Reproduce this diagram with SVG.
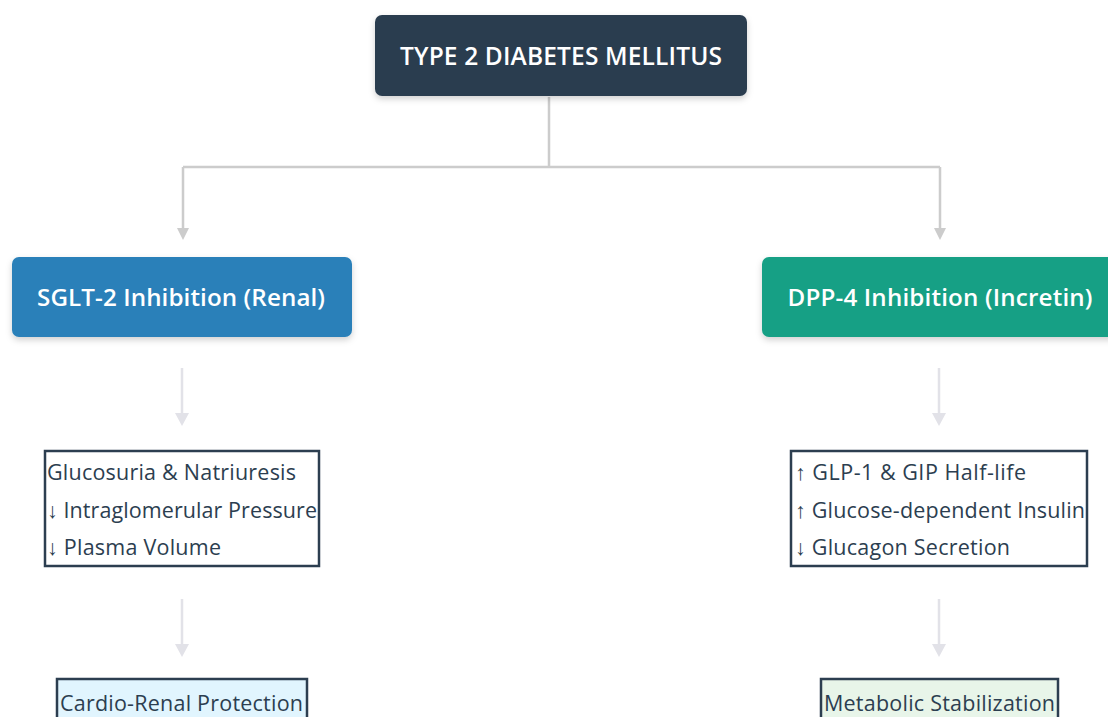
<svg xmlns="http://www.w3.org/2000/svg" width="1108" height="717" viewBox="0 0 1108 717">
<defs>
<filter id="sh" x="-10%" y="-20%" width="120%" height="150%">
<feDropShadow dx="0" dy="3" stdDeviation="3" flood-color="#000" flood-opacity="0.18"/>
</filter>
</defs>
<style>
.hd{font-family:"Open Sans","Noto Sans",sans-serif;font-weight:600;fill:#ffffff;text-anchor:middle}
.tx{font-family:"Open Sans","Noto Sans",sans-serif;font-size:21.5px;fill:#2c3e50}
.bx{fill:#ffffff;stroke:#2c3e50;stroke-width:2.5}
.c1{fill:none;stroke:#cccccc;stroke-width:2.5}
.c2{fill:none;stroke:#e2e2e8;stroke-width:2.5}
</style>
<rect width="1108" height="717" fill="#ffffff"/>
<g id="connectors">
<path class="c1" d="M549,97 V167 M183,167 H940 M183,167 V232 M940,167 V232"/>
<path d="M177,228 L189,228 L183,240 z M934,228 L946,228 L940,240 z" fill="#cccccc"/>
<path class="c2" d="M182,368 V415 M939,368 V415 M182,599 V646 M939,599 V646"/>
<path d="M175,413 L189,413 L182,426 z M932,413 L946,413 L939,426 z M175,644 L189,644 L182,657 z M932,644 L946,644 L939,657 z" fill="#e2e2e8"/>
</g>
<g id="root">
<rect x="375" y="15" width="372" height="81" rx="7" fill="#2c3e50" filter="url(#sh)"/>
<text class="hd" x="561" y="65" font-size="24.5" textLength="322">TYPE 2 DIABETES MELLITUS</text>
</g>
<g id="sglt2">
<rect x="12" y="257" width="340" height="80" rx="7" fill="#2980b9" filter="url(#sh)"/>
<text class="hd" x="181" y="306" font-size="24.2" textLength="288">SGLT-2 Inhibition (Renal)</text>
</g>
<g id="dpp4">
<rect x="762" y="257" width="356" height="80" rx="7" fill="#16a085" filter="url(#sh)"/>
<text class="hd" x="940" y="306" font-size="24.2" textLength="305">DPP-4 Inhibition (Incretin)</text>
</g>
<g id="sglt2-effects">
<rect class="bx" x="45" y="451" width="274" height="115"/>
<text class="tx" x="47" y="480" textLength="249">Glucosuria &amp; Natriuresis</text>
<text class="tx" x="47" y="518" textLength="270">↓ Intraglomerular Pressure</text>
<text class="tx" x="47" y="555" textLength="174">↓ Plasma Volume</text>
</g>
<g id="dpp4-effects">
<rect class="bx" x="791" y="451" width="296" height="115"/>
<text class="tx" x="795" y="480" textLength="231">↑ GLP-1 &amp; GIP Half-life</text>
<text class="tx" x="795" y="518" textLength="290">↑ Glucose-dependent Insulin</text>
<text class="tx" x="795" y="555" textLength="215">↓ Glucagon Secretion</text>
</g>
<g id="sglt2-outcome">
<rect x="57" y="679" width="250" height="60" fill="#e1f5fe" stroke="#2c3e50" stroke-width="2.5"/>
<text class="tx" x="60" y="711" textLength="243">Cardio-Renal Protection</text>
</g>
<g id="dpp4-outcome">
<rect x="821" y="679" width="237" height="60" fill="#e8f5e9" stroke="#2c3e50" stroke-width="2.5"/>
<text class="tx" x="824" y="711" textLength="231">Metabolic Stabilization</text>
</g>
</svg>
